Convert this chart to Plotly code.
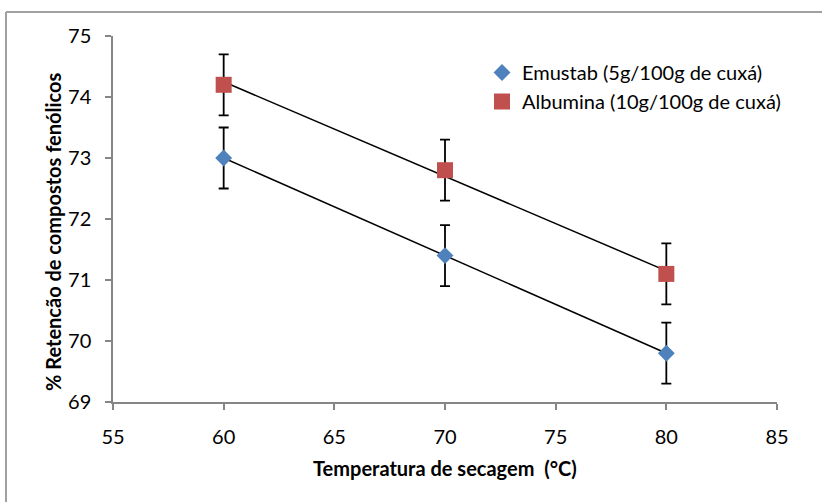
import numpy as np
import plotly.graph_objects as go

temperatura = [60, 70, 80]
emustab = [73.0, 71.4, 69.8]
emustab_err = [0.5, 0.5, 0.5]
albumina = [74.2, 72.8, 71.1]
albumina_err = [0.5, 0.5, 0.5]

x_ticks = [55, 60, 65, 70, 75, 80, 85]
y_ticks = [69, 70, 71, 72, 73, 74, 75]

FONT = "Lato"
fig = go.Figure()

def trend(xs, ys):
    m, b = np.polyfit(xs, ys, 1)
    xx = np.array([min(xs), max(xs)])
    return xx, m * xx + b

for ys in (emustab, albumina):
    tx, ty = trend(temperatura, ys)
    fig.add_trace(go.Scatter(x=tx, y=ty, mode="lines", line=dict(color="black", width=1.5),
                             showlegend=False, hoverinfo="skip"))

fig.add_trace(go.Scatter(
    x=temperatura, y=emustab, mode="markers", name="Emustab (5g/100g de cuxá)",
    marker=dict(symbol="diamond", size=13, color="#4F81BD"),
    error_y=dict(type="data", array=emustab_err, color="black", thickness=1.8, width=5)))
fig.add_trace(go.Scatter(
    x=temperatura, y=albumina, mode="markers", name="Albumina (10g/100g de cuxá)",
    marker=dict(symbol="square", size=16, color="#C0504D"),
    error_y=dict(type="data", array=albumina_err, color="black", thickness=1.8, width=5)))

axis_common = dict(showgrid=False, zeroline=False, showline=True, linecolor="#868686", linewidth=1.5,
                   ticks="outside", ticklen=6, tickcolor="#868686", tickwidth=1.5,
                   tickfont=dict(family=FONT, size=20, color="black"))

fig.update_xaxes(range=[55, 85], tickvals=x_ticks, ticktext=[str(v) for v in x_ticks],
                 ticklabelstandoff=10, **axis_common)
fig.update_yaxes(range=[69, 75], tickvals=y_ticks, ticktext=[str(v) for v in y_ticks],
                 ticklabelstandoff=10, **axis_common)

W, H = 822, 502
L, R, T, B = 113, 777, 36, 402
pw, ph = R - L, B - T

def px(xp):
    return (xp - L) / pw

def py(yp):
    return (B - yp) / ph

fig.update_layout(
    width=W, height=H,
    margin=dict(l=L, r=W - R, t=T, b=H - B, pad=0),
    paper_bgcolor="white", plot_bgcolor="white",
    font=dict(family=FONT, size=20, color="black"),
    legend=dict(x=px(482), y=py(53), xanchor="left", yanchor="top",
                bgcolor="rgba(0,0,0,0)", font=dict(family=FONT, size=20, color="black"),
                itemwidth=30),
    annotations=[
        dict(text="<b>Temperatura de secagem  (°C)</b>", x=0.5, y=py(468), xref="paper", yref="paper",
             xanchor="center", yanchor="middle", showarrow=False,
             font=dict(family=FONT, size=20, color="black")),
        dict(text="<b>% Retencão de compostos fenólicos</b>", x=px(53), y=py(232), xref="paper", yref="paper",
             xanchor="center", yanchor="middle", showarrow=False, textangle=-90,
             font=dict(family=FONT, size=20, color="black")),
    ],
    shapes=[
        dict(type="line", xref="paper", yref="paper", x0=px(6), x1=px(6), y0=py(503), y1=py(12),
             line=dict(color="#A0A0A0", width=2)),
        dict(type="line", xref="paper", yref="paper", x0=px(6), x1=px(823), y0=py(12), y1=py(12),
             line=dict(color="#A0A0A0", width=2)),
    ],
)

fig.write_html("out.html")
